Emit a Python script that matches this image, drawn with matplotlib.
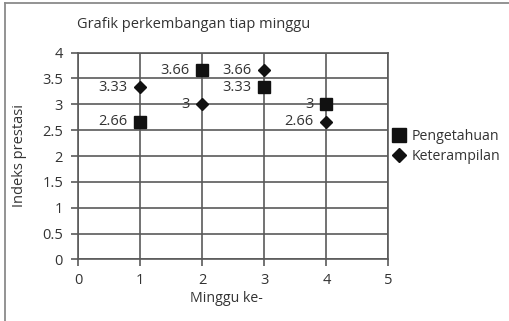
import matplotlib
matplotlib.use("Agg")
import matplotlib.pyplot as plt
from matplotlib.lines import Line2D

plt.rcParams['font.family'] = ['Open Sans', 'DejaVu Sans']

minggu = [1, 2, 3, 4]
pengetahuan = [2.66, 3.66, 3.33, 3.0]
keterampilan = [3.33, 3.0, 3.66, 2.66]
label_peng = ['2.66', '3.66', '3.33', '3']
label_ket = ['3.33', '3', '3.66', '2.66']

txt = '#333333'
grid = '#5a5a5a'

fig = plt.figure(figsize=(5.09, 3.21), dpi=100)
ax = fig.add_axes([0.1539, 0.192, 0.6092, 0.644])

ax.plot(minggu, pengetahuan, ls='none', marker='s', ms=9, color='#111111',
        label='Pengetahuan', zorder=3, clip_on=False)
ax.plot(minggu, keterampilan, ls='none', marker='D', ms=6.5, color='#111111',
        label='Keterampilan', zorder=3, clip_on=False)

for x, y, s in zip(minggu, pengetahuan, label_peng):
    ax.annotate(s, (x, y), xytext=(-13, 0), textcoords='offset pixels',
                ha='right', va='center', fontsize=10.5, color=txt)
for x, y, s in zip(minggu, keterampilan, label_ket):
    ax.annotate(s, (x, y), xytext=(-13, 0), textcoords='offset pixels',
                ha='right', va='center', fontsize=10.5, color=txt)

ax.set_xlim(0, 5)
ax.set_ylim(0, 4)
ax.set_xticks(range(0, 6))
ax.set_yticks([0, 0.5, 1, 1.5, 2, 2.5, 3, 3.5, 4])
ax.set_yticklabels(['0', '0.5', '1', '1.5', '2', '2.5', '3', '3.5', '4'])
ax.grid(True, color=grid, lw=1.2)
ax.set_axisbelow(True)
for sp in ax.spines.values():
    sp.set_color(grid)
    sp.set_linewidth(1.2)
ax.tick_params(length=5, width=1.2, color=grid, labelcolor=txt, labelsize=10.5)
ax.tick_params(axis='x', pad=5)
ax.tick_params(axis='y', pad=6)

ax.set_xlabel('Minggu ke-', fontsize=10.2, color=txt)
ax.xaxis.set_label_coords(0.477, -0.155)
ax.set_ylabel('Indeks prestasi', fontsize=10.5, color=txt)
ax.yaxis.set_label_coords(-0.166, 0.5)

fig.text(77 / 509, 1 - 25 / 321, 'Grafik perkembangan tiap minggu', ha='left',
         va='center', fontsize=10.5, color=txt)

handles = [Line2D([], [], ls='none', marker='s', ms=10, color='#111111'),
           Line2D([], [], ls='none', marker='D', ms=7, color='#111111')]
fig.legend(handles, ['Pengetahuan', 'Keterampilan'], loc='upper left',
           bbox_to_anchor=(388 / 509, 1 - 123 / 321), frameon=False,
           fontsize=10.2, labelcolor=txt, handlelength=0.8, handletextpad=0.5,
           labelspacing=0.4, borderaxespad=0)

# frame of the original picture (only top and left edges are visible)
fig.add_artist(Line2D([4.5 / 509, 4.5 / 509], [0, 1 - 2.5 / 321],
                      transform=fig.transFigure, color='#8a8a8a', lw=1.3))
fig.add_artist(Line2D([4.5 / 509, 1], [1 - 2.5 / 321, 1 - 2.5 / 321],
                      transform=fig.transFigure, color='#8a8a8a', lw=1.3))

fig.savefig('out.png', dpi=100)
